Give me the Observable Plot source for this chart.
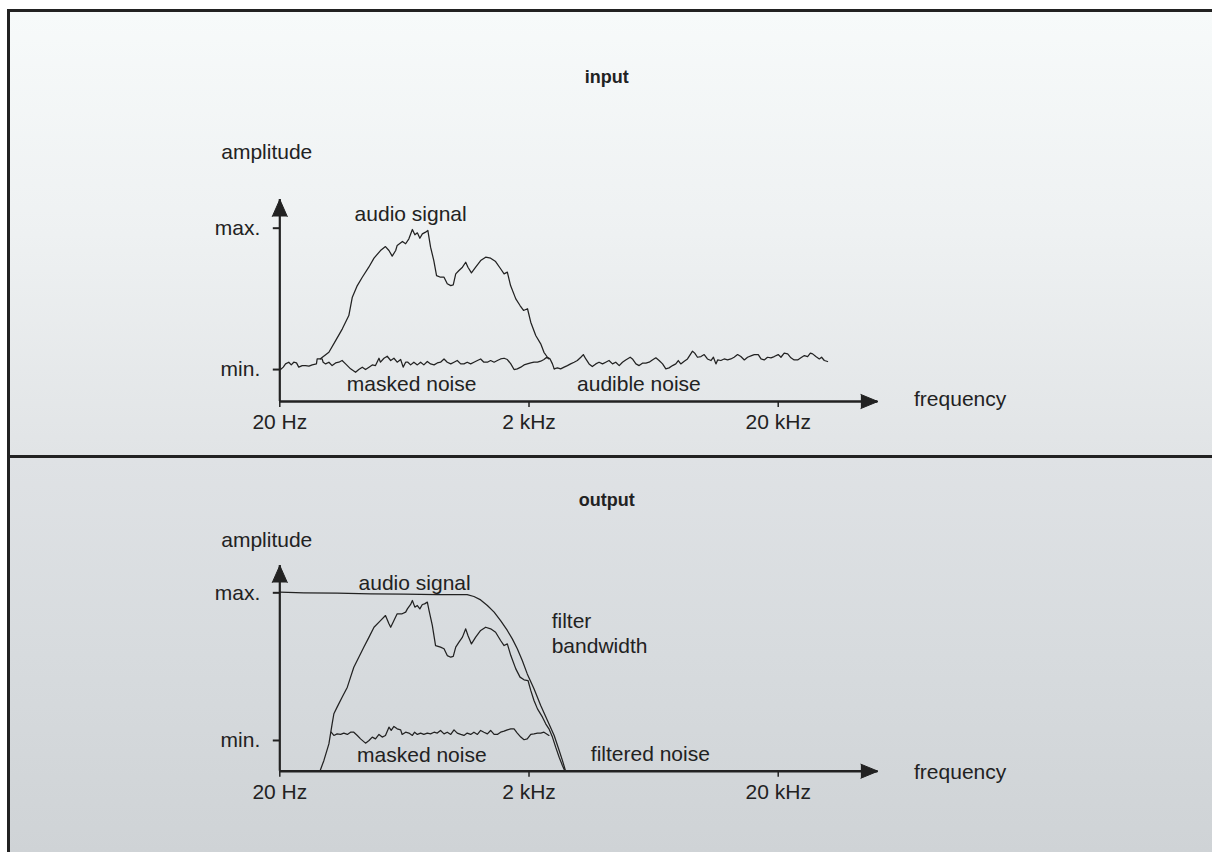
<!DOCTYPE html>
<html>
<head>
<meta charset="utf-8">
<script src="https://cdn.jsdelivr.net/npm/d3@7"></script>
<script src="https://cdn.jsdelivr.net/npm/@observablehq/plot@0.6"></script>
<style>
  html, body { margin: 0; padding: 0; background: #ffffff; }
  #frame { position: absolute; left: 7px; top: 9px; width: 1205px; height: 843px;
           border-top: 3px solid #222; border-left: 3px solid #222; overflow: hidden; }
  #inputPanel { position: absolute; left: 0; top: 0; width: 1202px; height: 443px;
           background: linear-gradient(to bottom, #f7fafa 0%, #eef1f2 50%, #e1e4e6 100%); }
  #divider { position: absolute; left: 0; top: 443px; width: 1202px; height: 3px; background: #222; }
  #outputPanel { position: absolute; left: 0; top: 446px; width: 1202px; height: 394px;
           background: linear-gradient(to bottom, #dfe2e5 0%, #d7dbde 50%, #cfd3d6 100%); }
  svg { display: block; }
</style>
</head>
<body>
<div id="frame">
  <div id="inputPanel"></div>
  <div id="divider"></div>
  <div id="outputPanel"></div>
</div>
<script>
// ---------- axis definitions (schematic frequency axis: 0 = 20 Hz, 1 = 2 kHz, 2 = 20 kHz) ----------
const xTicks = [0, 1, 2];
const xTickLabels = ["20 Hz", "2 kHz", "20 kHz"];
const yTicks = [0, 1];
const yTickLabels = ["min.", "max."];
const axisTitleY = "amplitude";
const axisTitleX = "frequency";

// ---------- input panel series: [frequency position, amplitude (0 = min, 1 = max)] ----------
const inputSignal = [
  [0.163,0.076],[0.197,0.122],[0.224,0.205],[0.251,0.288],[0.277,0.382],[0.291,0.512],[0.311,0.594],
  [0.331,0.653],[0.357,0.724],[0.378,0.788],[0.404,0.842],[0.424,0.870],[0.438,0.842],[0.451,0.802],
  [0.465,0.842],[0.471,0.878],[0.492,0.906],[0.505,0.890],[0.518,0.925],[0.532,0.991],[0.542,0.953],
  [0.552,0.967],[0.562,0.929],[0.572,0.960],[0.585,0.972],[0.594,0.984],[0.605,0.866],[0.618,0.771],
  [0.629,0.665],[0.645,0.653],[0.659,0.653],[0.672,0.607],[0.686,0.594],[0.696,0.599],[0.706,0.677],
  [0.719,0.701],[0.733,0.724],[0.746,0.759],[0.755,0.724],[0.769,0.684],[0.786,0.724],[0.806,0.771],
  [0.826,0.795],[0.846,0.788],[0.866,0.764],[0.886,0.713],[0.900,0.677],[0.913,0.689],[0.926,0.594],
  [0.947,0.500],[0.964,0.453],[0.978,0.418],[0.994,0.430],[1.007,0.335],[1.027,0.241],[1.047,0.182],
  [1.060,0.122],[1.074,0.087],[1.084,0.076],[1.094,0.040],[1.101,0.005]
];
const inputMaskedNoise = [
  [0.003,0.000],[0.014,0.017],[0.023,0.040],[0.036,0.052],[0.046,0.033],[0.056,0.052],[0.067,0.047],
  [0.076,0.017],[0.090,0.028],[0.103,0.028],[0.117,0.024],[0.130,0.033],[0.147,0.040],[0.150,0.075],
  [0.170,0.075],[0.174,0.052],[0.184,0.040],[0.197,0.052],[0.210,0.028],[0.224,0.047],[0.237,0.052],
  [0.250,0.064],[0.264,0.040],[0.284,0.005],[0.304,-0.019],[0.317,0.000],[0.331,0.017],[0.344,0.000],
  [0.358,0.017],[0.371,0.033],[0.384,0.028],[0.398,0.080],[0.404,0.052],[0.418,0.080],[0.431,0.094],
  [0.445,0.064],[0.458,0.080],[0.471,0.052],[0.485,0.071],[0.495,0.017],[0.505,0.052],[0.514,0.052],
  [0.525,0.033],[0.538,0.052],[0.552,0.033],[0.565,0.052],[0.578,0.033],[0.592,0.057],[0.605,0.040],
  [0.619,0.033],[0.632,0.047],[0.645,0.052],[0.659,0.075],[0.672,0.052],[0.686,0.040],[0.699,0.052],
  [0.712,0.064],[0.726,0.040],[0.739,0.040],[0.752,0.052],[0.766,0.040],[0.779,0.052],[0.793,0.064],
  [0.806,0.075],[0.819,0.052],[0.833,0.052],[0.846,0.064],[0.860,0.052],[0.873,0.064],[0.886,0.075],
  [0.900,0.080],[0.913,0.071],[0.927,0.040],[0.940,0.000],[0.953,0.005],[0.967,0.017],[0.980,0.033],
  [0.993,0.040],[1.007,0.047],[1.020,0.052],[1.034,0.052],[1.047,0.059],[1.060,0.071],[1.071,0.087],
  [1.080,0.075]
];
const inputAudibleNoise = [
  [1.101,0.005],[1.114,0.012],[1.127,0.005],[1.141,0.017],[1.154,0.028],[1.167,0.040],[1.181,0.052],
  [1.194,0.064],[1.208,0.087],[1.218,0.106],[1.228,0.075],[1.241,0.040],[1.254,0.021],[1.268,0.040],
  [1.281,0.052],[1.295,0.040],[1.308,0.052],[1.321,0.064],[1.335,0.040],[1.348,0.052],[1.362,0.028],
  [1.375,0.052],[1.388,0.068],[1.406,0.087],[1.415,0.075],[1.429,0.040],[1.442,0.028],[1.455,0.045],
  [1.469,0.045],[1.482,0.052],[1.495,0.068],[1.509,0.083],[1.522,0.064],[1.536,0.040],[1.549,0.005],
  [1.562,0.012],[1.576,0.028],[1.589,0.040],[1.599,0.064],[1.609,0.040],[1.623,0.059],[1.636,0.075],
  [1.649,0.111],[1.656,0.130],[1.665,0.116],[1.676,0.087],[1.690,0.092],[1.703,0.106],[1.716,0.075],
  [1.730,0.064],[1.740,0.087],[1.750,0.040],[1.757,0.068],[1.770,0.064],[1.783,0.075],[1.797,0.068],
  [1.810,0.075],[1.823,0.087],[1.837,0.106],[1.850,0.092],[1.864,0.068],[1.877,0.087],[1.893,0.099],
  [1.904,0.106],[1.920,0.106],[1.931,0.075],[1.944,0.068],[1.957,0.087],[1.971,0.083],[1.984,0.092],
  [2.000,0.106],[2.011,0.087],[2.024,0.116],[2.038,0.111],[2.051,0.083],[2.064,0.068],[2.078,0.068],
  [2.091,0.083],[2.105,0.099],[2.118,0.092],[2.129,0.116],[2.138,0.111],[2.151,0.092],[2.165,0.075],
  [2.174,0.087],[2.185,0.064],[2.198,0.057]
];

// ---------- output panel series ----------
const outputSignal = [
  [0.161,-0.208],[0.177,-0.135],[0.197,-0.023],[0.210,0.113],[0.217,0.181],[0.230,0.226],[0.250,0.293],
  [0.271,0.361],[0.284,0.429],[0.297,0.496],[0.317,0.564],[0.337,0.632],[0.358,0.700],[0.378,0.767],
  [0.404,0.812],[0.424,0.846],[0.438,0.790],[0.445,0.767],[0.458,0.812],[0.471,0.858],[0.491,0.858],
  [0.505,0.869],[0.512,0.891],[0.525,0.921],[0.532,0.948],[0.542,0.903],[0.552,0.914],[0.562,0.891],
  [0.572,0.921],[0.581,0.925],[0.592,0.937],[0.599,0.880],[0.612,0.779],[0.625,0.643],[0.645,0.632],
  [0.659,0.621],[0.672,0.575],[0.686,0.564],[0.696,0.569],[0.706,0.632],[0.719,0.666],[0.733,0.700],
  [0.746,0.756],[0.755,0.711],[0.769,0.654],[0.786,0.700],[0.806,0.745],[0.826,0.767],[0.846,0.756],
  [0.866,0.733],[0.886,0.677],[0.900,0.643],[0.913,0.654],[0.927,0.575],[0.947,0.485],[0.964,0.429],
  [0.980,0.411],[0.996,0.406],[1.007,0.339],[1.020,0.271],[1.034,0.214],[1.054,0.158],[1.067,0.113],
  [1.080,0.079],[1.094,0.023],[1.107,-0.045],[1.121,-0.113],[1.134,-0.169],[1.143,-0.203]
];
const outputMaskedNoise = [
  [0.206,0.056],[0.217,0.034],[0.230,0.045],[0.244,0.041],[0.257,0.050],[0.271,0.041],[0.284,0.056],
  [0.297,0.056],[0.311,0.034],[0.324,0.011],[0.344,-0.018],[0.358,0.000],[0.371,0.023],[0.384,0.011],
  [0.398,0.041],[0.411,0.023],[0.424,0.034],[0.438,0.090],[0.447,0.068],[0.458,0.095],[0.471,0.079],
  [0.485,0.072],[0.491,0.041],[0.505,0.056],[0.518,0.050],[0.532,0.034],[0.541,0.056],[0.552,0.041],
  [0.565,0.050],[0.578,0.041],[0.592,0.050],[0.605,0.045],[0.619,0.056],[0.632,0.050],[0.645,0.068],
  [0.659,0.045],[0.672,0.056],[0.686,0.041],[0.699,0.072],[0.712,0.050],[0.726,0.041],[0.739,0.034],
  [0.752,0.050],[0.766,0.041],[0.779,0.056],[0.793,0.041],[0.806,0.068],[0.819,0.056],[0.833,0.045],
  [0.846,0.068],[0.860,0.041],[0.873,0.041],[0.886,0.056],[0.900,0.063],[0.913,0.072],[0.927,0.079],
  [0.940,0.079],[0.953,0.050],[0.967,0.023],[0.980,0.005],[0.993,0.011],[1.007,0.041],[1.020,0.045],
  [1.034,0.050],[1.047,0.050],[1.060,0.056],[1.074,0.041],[1.080,0.034]
];
const outputFilter = [
  [0.000,1.004],[0.097,1.000],[0.230,0.998],[0.364,0.993],[0.498,0.991],[0.632,0.988],[0.752,0.988],
  [0.779,0.975],[0.806,0.952],[0.833,0.914],[0.860,0.869],[0.886,0.812],[0.913,0.745],[0.933,0.688],
  [0.953,0.621],[0.973,0.542],[0.993,0.451],[1.020,0.350],[1.047,0.237],[1.074,0.135],[1.101,0.034],
  [1.121,-0.068],[1.134,-0.135],[1.147,-0.208]
];

// ---------- annotations (text, and where it sits in chart units) ----------
const inputTitle = "input";
const outputTitle = "output";
const inputNotes = [
  {text: "audio signal", u: 0.525, v: 1.102, anchor: "middle"},
  {text: "masked noise", u: 0.529, v: -0.101, anchor: "middle"},
  {text: "audible noise", u: 1.441, v: -0.101, anchor: "middle"}
];
const outputNotes = [
  {text: "audio signal", u: 0.541, v: 1.068, anchor: "middle"},
  {text: "filter", u: 1.091, v: 0.810, anchor: "start"},
  {text: "bandwidth", u: 1.091, v: 0.641, anchor: "start"},
  {text: "masked noise", u: 0.570, v: -0.097, anchor: "middle"},
  {text: "filtered noise", u: 1.248, v: -0.090, anchor: "start"}
];

// ---------- drawing ----------
const INK = "#222222";
const FONT = "'Liberation Sans', Arial, Helvetica, sans-serif";
const xDomain = [0, 2.4];

function panel({height, marginTop, marginBottom, yDomain, title, titleV, ampV, freqV, series, notes}) {
  const textMarks = notes.map(n => Plot.text([n], {x: "u", y: "v", text: "text", textAnchor: n.anchor, fill: INK}));
  return Plot.plot({
    width: 1202,
    height,
    marginLeft: 269.3,
    marginRight: 334.6,
    marginTop,
    marginBottom,
    x: {domain: xDomain, axis: null},
    y: {domain: yDomain, axis: null},
    style: {background: "transparent", fontFamily: FONT, fontSize: "21px", color: INK, overflow: "visible"},
    marks: [
      ...series.map(s => Plot.line(s, {stroke: INK, strokeWidth: 1.25, strokeLinejoin: "round"})),
      Plot.ruleY([yDomain[0]], {stroke: INK, strokeWidth: 2.6}),
      Plot.ruleX([xDomain[0]], {stroke: INK, strokeWidth: 2.2}),
      Plot.vector([{x: xDomain[1], y: yDomain[0]}], {x: "x", y: "y", shape: "spike", r: 7, length: 17, rotate: 90, anchor: "end", fill: INK, fillOpacity: 1, stroke: INK, strokeWidth: 1}),
      Plot.vector([{x: xDomain[0], y: yDomain[1]}], {x: "x", y: "y", shape: "spike", r: 7.5, length: 17, rotate: 0, anchor: "end", fill: INK, fillOpacity: 1, stroke: INK, strokeWidth: 1}),
      Plot.axisX({ticks: xTicks, tickFormat: d => xTickLabels[xTicks.indexOf(d)], tickSize: 6, tickPadding: 7, strokeWidth: 1.5, label: null, fill: INK}),
      Plot.axisY({ticks: yTicks, tickFormat: d => yTickLabels[yTicks.indexOf(d)], tickSize: 6.5, tickPadding: 13, strokeWidth: 2, label: null, fill: INK}),
      ...textMarks,
      Plot.text([{t: axisTitleY, u: -0.235, v: ampV}], {x: "u", y: "v", text: "t", textAnchor: "start", fill: INK}),
      Plot.text([{t: axisTitleX, u: 2.545, v: freqV}], {x: "u", y: "v", text: "t", textAnchor: "start", fill: INK}),
      Plot.text([{t: title, u: 1.312, v: titleV}], {x: "u", y: "v", text: "t", textAnchor: "middle", fontWeight: "bold", fontSize: 18, fill: INK})
    ]
  });
}

document.getElementById("inputPanel").appendChild(panel({
  height: 443, marginTop: 187, marginBottom: 54, yDomain: [-0.226, 1.203],
  title: inputTitle, titleV: 2.065, ampV: 1.534, freqV: -0.211,
  series: [inputMaskedNoise, inputSignal, inputAudibleNoise], notes: inputNotes
}));
document.getElementById("outputPanel").appendChild(panel({
  height: 394, marginTop: 107, marginBottom: 81.3, yDomain: [-0.208, 1.185],
  title: outputTitle, titleV: 1.624, ampV: 1.354, freqV: -0.215,
  series: [outputFilter, outputMaskedNoise, outputSignal], notes: outputNotes
}));
</script>
</body>
</html>
